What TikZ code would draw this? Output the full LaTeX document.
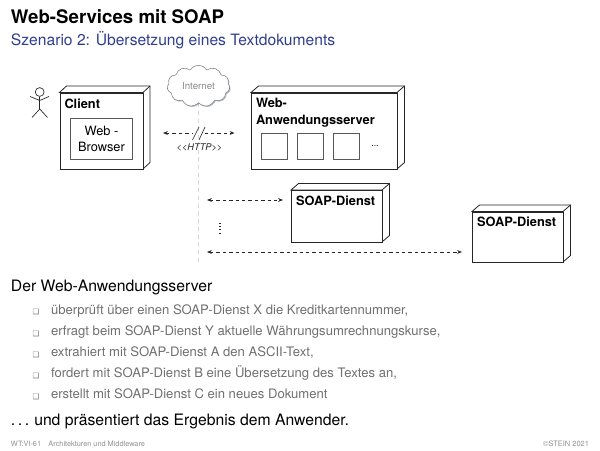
\documentclass[tikz,border=0pt]{standalone}
\usepackage{fontspec}
\setmainfont{TeX Gyre Heros}
\newfontfamily\dejavu{DejaVu Sans}
\usetikzlibrary{shapes.symbols,arrows.meta}
\definecolor{subblue}{HTML}{2F3E8C}
\definecolor{itemgray}{HTML}{707070}
\definecolor{footgray}{HTML}{909090}
\definecolor{shadowblue}{HTML}{B4BCCB}
\tikzset{
  txt/.style={inner sep=0pt,outer sep=0pt,anchor=base west},
  nodefront/.style={draw=black!85,fill=white,line width=0.6pt,inner sep=0pt,anchor=north west},
  nodeedge/.style={draw=black!85,fill=white,line width=0.6pt,line join=miter},
  boxlabel/.style={txt,font=\fontsize{9.6pt}{12.2pt}\selectfont\bfseries,align=left,anchor=north west},
  part/.style={draw=black!65,fill=white,line width=0.7pt,inner sep=0pt,anchor=north west},
  link/.style={draw=black!85,line width=0.45pt,dash pattern=on 2.6pt off 2.2pt,{Stealth[length=3.6pt,width=2.8pt]}-{Stealth[length=3.6pt,width=2.8pt]}},
  lifeline/.style={draw=black!45,line width=0.35pt,dash pattern=on 3.2pt off 2.6pt},
  bulletitem/.style={txt,text=itemgray,font=\fontsize{9.82pt}{12pt}\selectfont},
  bulletmark/.style={txt,text=itemgray,font=\dejavu\fontsize{5.6pt}{8pt}\selectfont},
  actorline/.style={draw=black!85,line width=0.5pt},
  cloudform/.style={cloud,cloud puffs=11,cloud puff arc=115,aspect=1.5,minimum width=47pt,minimum height=31pt,inner sep=0pt}
}
\newcommand{\threed}[6]{% name x1 y1 x2 y2 depth-x, depth-y = 6
  \path[nodeedge] (#2,#3) -- ++(#6,-6.5) -- (#4+#6,#3-6.5) -- (#4+#6,#5-6.5) -- (#4,#5) -- (#4,#3) -- cycle;
  \draw[nodeedge,fill=none] (#4,#3) -- ++(#6,-6.5);
  \node[nodefront,minimum width={(#4-#2)*0.75pt},minimum height={(#5-#3)*0.75pt}] (#1) at (#2,#3) {};
}
\begin{document}
\begin{tikzpicture}[x=0.75pt,y=-0.75pt]
\useasboundingbox (0,0) rectangle (600,450);
\fill[white] (0,0) rectangle (600,450);
% titles
\node[txt,font=\fontsize{14pt}{16pt}\selectfont\bfseries] (title) at (11,23) {Web-Services mit SOAP};
\node[txt,text=subblue,font=\fontsize{11.72pt}{14pt}\selectfont] (subtitle) at (11,45.5) {Szenario 2: Übersetzung eines Textdokuments};
% lifeline and cloud
\coordinate (lifeend) at (198.5,262);
\node[cloudform,fill=shadowblue] (cloudshadow) at (199.5,87) {};
\node[cloudform,draw=black!50,fill=white,line width=0.4pt,text=black!45,font=\fontsize{7.3pt}{9pt}\selectfont] (cloudnode) at (198.5,86) {Internet};
\draw[lifeline] (cloudnode.south) -- (lifeend);
% actor
\coordinate (actorneck) at (39.7,96.5);
\coordinate (actorhip) at (39.7,109);
\coordinate (armleft) at (30,96.5);
\coordinate (armright) at (49,96.5);
\coordinate (armjoin) at (39.7,100.5);
\coordinate (legleft) at (32,117.5);
\coordinate (legright) at (47.5,117.5);
\node[draw=black!85,circle,line width=0.5pt,minimum size=6.6pt,inner sep=0pt] (actorhead) at (39.7,92) {};
\draw[actorline] (actorhead.south) -- (actorhip);
\draw[actorline] (armleft) -- (armjoin) -- (armright);
\draw[actorline] (legleft) -- (actorhip) -- (legright);
% client
\threed{client}{59.5}{92.5}{143}{169}{7}
\node[boxlabel] (clientlabel) at (64.5,98.5) {Client};
\node[part,minimum width=46.5pt,minimum height=31pt,align=center,font=\fontsize{9.6pt}{12pt}\selectfont] (browser) at (70,118) {Web -\\Browser};
% server
\threed{server}{251}{92.5}{397}{169}{7.5}
\node[boxlabel] (serverlabel) at (256,98.5) {Web-\\Anwendungsserver};
\node[part,minimum width=19.5pt,minimum height=19.5pt] (p1) at (261,133) {};
\node[part,minimum width=19.5pt,minimum height=19.5pt] (p2) at (297,133) {};
\node[part,minimum width=19.5pt,minimum height=19.5pt] (p3) at (333,133) {};
\node[inner sep=0pt,font=\fontsize{6.5pt}{8pt}\selectfont] (pdots) at (375,146) {...};
% soap
\threed{soapa}{291}{190}{382}{242}{7.5}
\node[boxlabel] (soapalabel) at (296,195.5) {SOAP-Dienst};
\threed{soapb}{472}{211.5}{563}{262}{7.5}
\node[boxlabel] (soapblabel) at (477,216.5) {SOAP-Dienst};
% links
\coordinate (httpl) at (163,133);
\coordinate (httpr) at (234.5,133);
\draw[link] (httpl) -- (httpr);
\coordinate (slashaa) at (192.5,140);
\coordinate (slashab) at (199,127);
\coordinate (slashba) at (199,140);
\coordinate (slashbb) at (205,127);
\fill[white] (193,131) rectangle (205,135);
\draw[draw=black!85,line width=0.45pt] (slashaa) -- (slashab);
\draw[draw=black!85,line width=0.45pt] (slashba) -- (slashbb);
\node[inner sep=0pt,font=\fontsize{6.9pt}{8pt}\selectfont\itshape,text=black!85] (httplabel) at (199.5,147.5) {<{}<HTTP>{}>};
\coordinate (la) at (207,200);
\coordinate (lb) at (283,200);
\draw[link] (la) -- (lb);
\coordinate (lc) at (207,252);
\coordinate (ld) at (462,252);
\draw[link] (lc) -- (ld);
\coordinate (da) at (220,223);
\coordinate (db) at (220,233.5);
\draw[draw=black!85,line width=0.8pt,dash pattern=on 0.8pt off 1.6pt] (da) -- (db);
% text
\node[txt,font=\fontsize{11.8pt}{14pt}\selectfont] (lead) at (11,291) {Der Web-Anwendungsserver};
\node[bulletmark] (m1) at (32.5,314.5) {❑};
\node[bulletitem] (i1) at (51,314) {überprüft über einen SOAP-Dienst X die Kreditkartennummer,};
\node[bulletmark] (m2) at (32.5,336) {❑};
\node[bulletitem] (i2) at (51,335.5) {erfragt beim SOAP-Dienst Y aktuelle Währungsumrechnungskurse,};
\node[bulletmark] (m3) at (32.5,357) {❑};
\node[bulletitem] (i3) at (51,356.5) {extrahiert mit SOAP-Dienst A den ASCII-Text,};
\node[bulletmark] (m4) at (32.5,378) {❑};
\node[bulletitem] (i4) at (51,377.5) {fordert mit SOAP-Dienst B eine Übersetzung des Textes an,};
\node[bulletmark] (m5) at (32.5,399) {❑};
\node[bulletitem] (i5) at (51,398.5) {erstellt mit SOAP-Dienst C ein neues Dokument};
\node[txt,font=\fontsize{11.8pt}{14pt}\selectfont] (closing) at (11,425) {.\hspace{1.9pt}.\hspace{1.9pt}.\hspace{3.8pt}und präsentiert das Ergebnis dem Anwender.};
\node[txt,text=footgray,font=\fontsize{5.5pt}{6pt}\selectfont] (footl) at (11,446) {WT:VI-61\hspace{5.5pt}Architekturen und Middleware};
\node[txt,anchor=base east,text=footgray,font=\fontsize{5.6pt}{6pt}\selectfont] (footr) at (589,446) {©STEIN 2021};
\end{tikzpicture}
\end{document}
